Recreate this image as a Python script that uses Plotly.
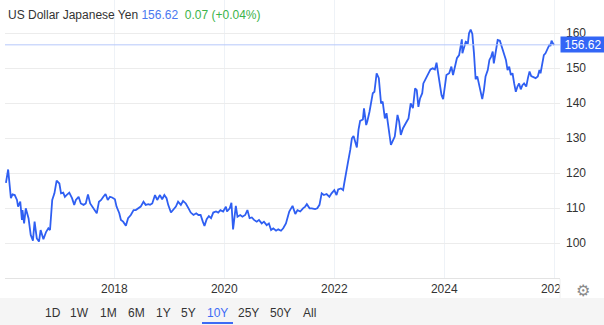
import pandas as pd
import plotly.graph_objects as go

# Decimal-year positions and USD/JPY values
years = [
    2016.03, 2016.07, 2016.12, 2016.15, 2016.19, 2016.23, 2016.25, 2016.29, 2016.32, 2016.33,
    2016.36, 2016.39, 2016.44, 2016.48, 2016.52, 2016.55, 2016.59, 2016.63, 2016.66, 2016.71,
    2016.76, 2016.80, 2016.83, 2016.87, 2016.91, 2016.95, 2017.00, 2017.03, 2017.07, 2017.10,
    2017.13, 2017.18, 2017.23, 2017.27, 2017.30, 2017.35, 2017.39, 2017.44, 2017.48, 2017.52,
    2017.56, 2017.60, 2017.64, 2017.68, 2017.72, 2017.76, 2017.80, 2017.84, 2017.88, 2017.92,
    2017.96, 2018.01, 2018.04, 2018.09, 2018.12, 2018.16, 2018.21, 2018.25, 2018.30, 2018.35,
    2018.39, 2018.44, 2018.48, 2018.53, 2018.57, 2018.62, 2018.65, 2018.69, 2018.74, 2018.78,
    2018.83, 2018.87, 2018.91, 2018.95, 2018.98, 2019.03, 2019.07, 2019.12, 2019.16, 2019.21,
    2019.25, 2019.30, 2019.35, 2019.39, 2019.44, 2019.49, 2019.53, 2019.57, 2019.61, 2019.64,
    2019.68, 2019.72, 2019.76, 2019.80, 2019.85, 2019.89, 2019.93, 2019.98, 2020.03, 2020.05,
    2020.10, 2020.13, 2020.16, 2020.21, 2020.24, 2020.29, 2020.33, 2020.38, 2020.42, 2020.46,
    2020.50, 2020.54, 2020.59, 2020.63, 2020.68, 2020.72, 2020.77, 2020.81, 2020.85, 2020.89,
    2020.94, 2020.98, 2021.03, 2021.07, 2021.12, 2021.15, 2021.18, 2021.24, 2021.29, 2021.33,
    2021.38, 2021.43, 2021.47, 2021.50, 2021.55, 2021.59, 2021.65, 2021.69, 2021.73, 2021.77,
    2021.81, 2021.86, 2021.91, 2021.95, 2022.00, 2022.04, 2022.07, 2022.12, 2022.16, 2022.18,
    2022.23, 2022.25, 2022.29, 2022.32, 2022.35, 2022.38, 2022.41, 2022.44, 2022.47, 2022.52,
    2022.54, 2022.58, 2022.60, 2022.64, 2022.67, 2022.70, 2022.73, 2022.77, 2022.81, 2022.85,
    2022.88, 2022.92, 2022.95, 2023.00, 2023.03, 2023.07, 2023.10, 2023.15, 2023.18, 2023.21,
    2023.25, 2023.30, 2023.35, 2023.39, 2023.43, 2023.47, 2023.50, 2023.53, 2023.56, 2023.60,
    2023.62, 2023.66, 2023.71, 2023.75, 2023.79, 2023.83, 2023.86, 2023.89, 2023.92, 2023.95,
    2023.98, 2024.01, 2024.04, 2024.09, 2024.13, 2024.16, 2024.20, 2024.23, 2024.27, 2024.30,
    2024.32, 2024.33, 2024.36, 2024.39, 2024.43, 2024.45, 2024.48, 2024.51, 2024.54, 2024.57,
    2024.60, 2024.63, 2024.66, 2024.69, 2024.72, 2024.75, 2024.79, 2024.82, 2024.85, 2024.88,
    2024.90, 2024.94, 2024.97, 2025.01, 2025.04, 2025.09, 2025.12, 2025.15, 2025.18, 2025.21,
    2025.24, 2025.27, 2025.30, 2025.33, 2025.36, 2025.39, 2025.42, 2025.45, 2025.49, 2025.52,
    2025.55, 2025.58, 2025.62, 2025.66, 2025.70, 2025.73, 2025.75, 2025.78, 2025.81, 2025.84,
    2025.87, 2025.91, 2025.93, 2025.95, 2025.98, 2026.00,
]
usdjpy = [
    117.2, 121.0, 112.8, 113.9, 113.7, 112.3, 110.4, 111.8, 106.6, 109.4,
    105.6, 109.9, 107.1, 102.3, 100.7, 106.1, 101.3, 100.4, 103.7, 101.1,
    103.2, 104.2, 103.7, 112.3, 114.2, 117.8, 117.0, 114.2, 114.4, 113.2,
    113.7, 114.4, 112.8, 110.9, 112.3, 113.2, 111.3, 110.9, 111.3, 113.9,
    111.3, 110.4, 109.4, 108.5, 111.8, 112.3, 113.2, 114.0, 112.3, 113.2,
    113.0, 112.5, 110.4, 108.5, 106.6, 106.1, 104.9, 107.1, 108.0, 109.4,
    109.4, 109.9, 110.4, 111.8, 110.9, 111.1, 110.9, 111.3, 113.7, 112.3,
    113.7, 112.5, 113.7, 112.8, 110.9, 108.7, 109.6, 110.4, 111.8, 110.9,
    112.0, 111.3, 109.9, 108.7, 108.0, 108.5, 108.0, 108.0, 106.1, 104.9,
    106.8, 107.7, 107.1, 108.7, 109.0, 108.7, 109.4, 109.0, 110.4, 109.0,
    109.9, 111.5, 103.9, 110.6, 107.5, 108.0, 107.5, 108.0, 109.4, 107.1,
    107.3, 106.6, 106.1, 106.6, 105.6, 106.1, 105.1, 105.6, 103.7, 104.2,
    103.5, 103.9, 103.5, 104.2, 105.6, 107.5, 109.0, 110.6, 108.3, 109.4,
    109.0, 109.9, 110.4, 111.1, 109.9, 109.9, 109.7, 109.9, 110.9, 114.2,
    113.7, 114.0, 113.2, 114.2, 115.1, 113.7, 115.3, 115.6, 115.1, 117.0,
    122.3, 123.2, 126.6, 129.9, 130.6, 128.9, 127.3, 132.3, 134.9, 135.3,
    138.5, 133.7, 134.7, 137.5, 140.9, 142.8, 143.2, 148.5, 147.1, 139.9,
    140.4, 135.6, 137.1, 131.8, 128.0, 129.4, 130.4, 136.6, 134.7, 130.9,
    132.8, 134.2, 135.6, 139.9, 138.5, 144.2, 143.7, 138.9, 141.3, 142.8,
    145.6, 146.8, 148.5, 149.6, 149.9, 149.6, 151.5, 148.5, 145.6, 142.3,
    141.1, 144.7, 148.0, 148.5, 150.4, 148.0, 151.3, 152.8, 153.7, 156.1,
    158.2, 154.2, 155.6, 157.5, 157.2, 159.9, 161.0, 159.7, 154.2, 146.8,
    147.6, 145.6, 143.2, 141.1, 143.7, 147.6, 149.4, 152.3, 153.2, 154.7,
    151.3, 155.6, 158.0, 157.8, 156.1, 153.2, 152.3, 149.4, 150.4, 148.0,
    148.5, 145.6, 143.2, 144.7, 145.6, 143.9, 145.1, 145.6, 144.7, 147.1,
    149.0, 147.7, 147.3, 147.1, 147.6, 149.4, 148.5, 151.3, 153.7, 154.2,
    155.1, 156.6, 156.3, 157.8, 156.9, 156.62,
]
y_ticks = [100, 110, 120, 130, 140, 150, 160]
x_tick_years = [2018, 2020, 2022, 2024, 2026]
range_buttons = ["1D", "1W", "1M", "6M", "1Y", "5Y", "10Y", "25Y", "50Y", "All"]
active_button = "10Y"
title_name = "US Dollar Japanese Yen"
last_price = "156.62"
change_text = "0.07 (+0.04%)"


def to_date(yf):
    y = int(yf)
    start = pd.Timestamp(year=y, month=1, day=1)
    end = pd.Timestamp(year=y + 1, month=1, day=1)
    return start + (end - start) * (yf - y)


dates = [to_date(v) for v in years]

W, H = 604, 325
L, R, T, B = 5, 44, 0, 47
PW, PH = W - L - R, H - T - B


def px_x(px):
    return (px - L) / PW


def px_y(py):
    return (H - B - py) / PH


LINE_BLUE = "#2f5ff2"
FONT = "Liberation Sans, Arial, sans-serif"

fig = go.Figure()
fig.add_trace(go.Scatter(
    x=dates, y=usdjpy, mode="lines",
    line=dict(color=LINE_BLUE, width=1.8),
    hoverinfo="skip", showlegend=False,
))

shapes = [
    # current price line
    dict(type="line", xref="paper", yref="y", x0=0, x1=1,
         y0=usdjpy[-1], y1=usdjpy[-1], line=dict(color="#b7c8fb", width=1)),
    # footer band
    dict(type="rect", xref="paper", yref="paper", x0=px_x(0), x1=px_x(W),
         y0=px_y(298), y1=px_y(H), fillcolor="#f5f5f5", line=dict(width=0), layer="above"),
    # right gear area (clips last year label)
    dict(type="rect", xref="paper", yref="paper", x0=px_x(560), x1=px_x(W),
         y0=px_y(279), y1=px_y(298), fillcolor="white", line=dict(width=0), layer="above"),
    dict(type="line", xref="paper", yref="paper", x0=px_x(560), x1=px_x(560),
         y0=px_y(279), y1=px_y(298), line=dict(color="#eeeeee", width=1), layer="above"),
    # active button underline
    dict(type="line", xref="paper", yref="paper", x0=px_x(202), x1=px_x(233),
         y0=px_y(323), y1=px_y(323), line=dict(color="#3d6bf5", width=2), layer="above"),
]

annotations = [
    dict(xref="paper", yref="paper", x=px_x(6), y=px_y(15), xanchor="left", yanchor="middle",
         showarrow=False, align="left",
         text=(f"<span style='color:#333333'>{title_name}</span> "
               f"<span style='color:#4a78f0'>{last_price}</span>  "
               f"<span style='color:#3cb34a'>{change_text}</span>"),
         font=dict(family=FONT, size=12, color="#333333")),
    dict(xref="paper", yref="y", x=px_x(560), y=usdjpy[-1], xanchor="left", yanchor="middle",
         showarrow=False, text=last_price, bgcolor="#3366f6", width=42, height=13,
         borderpad=1, font=dict(family=FONT, size=12, color="white")),
    dict(xref="paper", yref="paper", x=px_x(583), y=px_y(290), xanchor="center", yanchor="middle",
         showarrow=False, text="⚙", font=dict(family="DejaVu Sans", size=16, color="#8a8a8a")),
]

button_x = [53, 79, 108, 136, 163, 188, 217, 248, 280, 309]
for label, bx in zip(range_buttons, button_x):
    annotations.append(dict(
        xref="paper", yref="paper", x=px_x(bx), y=px_y(313), xanchor="center", yanchor="middle",
        showarrow=False, text=label,
        font=dict(family=FONT, size=12, color="#3d6bf5" if label == active_button else "#333333"),
    ))

fig.update_layout(
    width=W, height=H,
    margin=dict(l=L, r=R, t=T, b=B),
    paper_bgcolor="white", plot_bgcolor="white",
    font=dict(family=FONT, size=12, color="#333333"),
    shapes=shapes, annotations=annotations,
    showlegend=False,
)
fig.update_xaxes(
    type="date",
    range=[to_date(2016.013), to_date(2026.104)],
    tickvals=[pd.Timestamp(year=y, month=1, day=1) for y in x_tick_years],
    ticktext=[str(y) for y in x_tick_years],
    showgrid=True, gridcolor="#eef2f7", gridwidth=1,
    showline=True, linecolor="#e3e3e3", linewidth=1,
    ticks="", tickfont=dict(family=FONT, size=12, color="#333333"),
    zeroline=False, fixedrange=True,
)
fig.update_yaxes(
    side="right",
    range=[90, 169.43],
    tickvals=y_ticks,
    showgrid=True, gridcolor="#ececec", gridwidth=1,
    showline=False, zeroline=False, ticks="",
    ticklabelstandoff=5,
    tickfont=dict(family=FONT, size=12, color="#333333"),
    fixedrange=True,
)

fig.write_html("out.html", config={"displayModeBar": False})
